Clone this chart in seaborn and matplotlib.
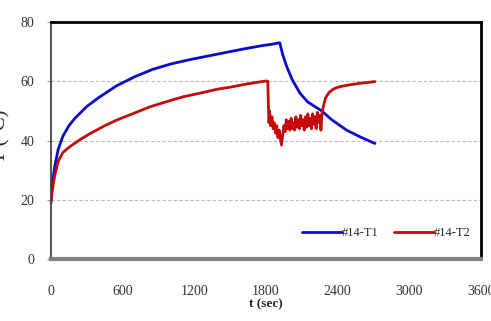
import pandas as pd
import matplotlib
matplotlib.use("Agg")
import matplotlib.pyplot as plt
import seaborn as sns

# Temperature traces (t in sec, T in deg C)
t1_time = [0, 10, 30, 60, 100, 150, 200, 300, 400, 550, 700, 850, 1000, 1150,
           1300, 1450, 1600, 1750, 1850, 1915, 1940, 1973, 2020, 2084, 2150,
           2266, 2350, 2475, 2600, 2712]
t1_temp = [20, 25, 31, 37, 41.5, 45, 47.5, 51.5, 54.5, 58.5, 61.5, 64, 65.8, 67.2,
           68.4, 69.6, 70.8, 71.9, 72.5, 73.0, 69.0, 65.0, 60.5, 56.0, 53.0,
           50.0, 47.0, 43.5, 41.0, 39.0]

t2_time = [0, 10, 30, 60, 100, 160, 250, 330, 450, 550, 700, 830, 1000, 1110,
           1250, 1390, 1500, 1640, 1750, 1805, 1815,
           1820, 1825, 1830, 1840, 1850, 1860, 1870, 1880, 1890, 1900, 1910, 1920,
           1930, 1940, 1950, 1960, 1970, 1980, 1990, 2000, 2010, 2020, 2030,
           2040, 2050, 2060, 2070, 2080, 2090, 2100, 2110, 2120, 2130, 2140,
           2150, 2160, 2170, 2180, 2190, 2200, 2210, 2220, 2230, 2240, 2250,
           2260, 2268, 2280, 2300, 2330, 2370, 2420, 2500, 2585, 2650, 2712]
t2_temp = [19, 23, 28, 33, 36, 38, 40.5, 42.4, 45, 46.9, 49.3, 51.4, 53.5, 54.8,
           56, 57.3, 58, 59.1, 59.8, 60.1, 60.0,
           52, 46, 50, 45, 48, 44, 46, 42.5, 45, 41, 43.5, 40.5,
           38.5, 42, 45, 43, 47, 44, 46.5, 43.5, 47.5, 44, 46,
           43.5, 48, 44.5, 47, 44, 48.5, 45, 47, 43.5, 48, 44.5,
           49, 45, 47.5, 44, 49, 45.5, 48, 44, 49.5, 46, 48.5,
           43.5, 49, 51.5, 54.5, 56.3, 57.5, 58.2, 58.8, 59.3, 59.6, 59.9]

series_names = ["#14-T1", "#14-T2"]
x_ticks = [0, 600, 1200, 1800, 2400, 3000, 3600]
y_ticks = [0, 20, 40, 60, 80]

df = pd.concat([
    pd.DataFrame({"t": t1_time, "T": t1_temp, "series": series_names[0]}),
    pd.DataFrame({"t": t2_time, "T": t2_temp, "series": series_names[1]}),
], ignore_index=True)

sns.set_style("white")
plt.rcParams["font.family"] = ["Liberation Serif", "DejaVu Serif"]

fig = plt.figure(figsize=(4.91, 3.21), dpi=100)
ax = fig.add_axes([0.1039, 0.193, 0.8757, 0.7385])

sns.lineplot(data=df, x="t", y="T", hue="series", sort=False,
             palette={"#14-T1": "#0A0ACC", "#14-T2": "#C40A0A"},
             linewidth=2.0, ax=ax)

ax.set_xlim(0, 3600)
ax.set_ylim(0, 80)
ax.set_xticks(x_ticks)
ax.set_yticks(y_ticks)

# dashed horizontal gridlines
for yv in y_ticks[1:-1]:
    ax.axhline(yv, color="#BBBBBB", lw=0.8, ls=(0, (3, 2)), zorder=0)

ax.spines["top"].set_color("black")
ax.spines["top"].set_linewidth(2.0)
ax.spines["right"].set_color("black")
ax.spines["right"].set_linewidth(2.0)
ax.spines["bottom"].set_color("#808080")
ax.spines["bottom"].set_linewidth(3.0)
ax.spines["left"].set_color("#333333")
ax.spines["left"].set_linewidth(1.2)
ax.spines["left"].set_linestyle((0, (1, 1)))

ax.tick_params(axis="y", which="major", length=3, color="#999999",
               pad=9, labelsize=10, labelcolor="#333333", left=True)
ax.tick_params(axis="x", which="major", length=0, pad=19,
               labelsize=10, labelcolor="#333333")

ax.set_xlabel("t (sec)", fontsize=9.5, fontweight="bold", labelpad=0)
ax.set_ylabel("T (°C)", fontsize=15)
ax.yaxis.set_label_coords(-0.095, 0.52)

ax.legend(loc="center", bbox_to_anchor=(0.78, 0.11), ncol=2, frameon=False,
          fontsize=9, handlelength=3.2, handletextpad=0.0, columnspacing=1.2)
for line in ax.get_legend().get_lines():
    line.set_linewidth(2.0)

fig.savefig("out.png", dpi=100)
